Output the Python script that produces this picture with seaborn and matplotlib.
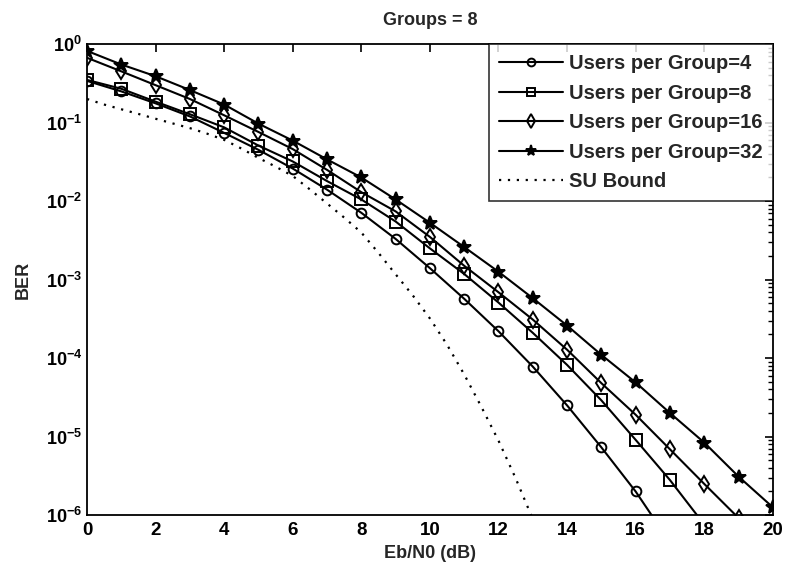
import matplotlib
matplotlib.use("Agg")
import matplotlib.pyplot as plt
import seaborn as sns
import pandas as pd
from matplotlib.ticker import LogLocator, FixedLocator, NullFormatter

# ---- data ----
ebn0 = list(range(0, 21))

ber_u4 = [0.34, 0.25, 0.176, 0.12, 0.074, 0.045, 0.026, 0.014, 0.0071, 0.0033,
          0.0014, 5.7e-4, 2.2e-4, 7.8e-5, 2.5e-5, 7.3e-6, 2.0e-6, 4.5e-7]
ber_u8 = [0.35, 0.27, 0.185, 0.128, 0.087, 0.051, 0.032, 0.018, 0.0105, 0.0055,
          0.0025, 1.18e-3, 5.1e-4, 2.1e-4, 8.2e-5, 2.9e-5, 9.1e-6, 2.8e-6, 7.6e-7]
ber_u16 = [0.67, 0.45, 0.30, 0.20, 0.124, 0.076, 0.046, 0.025, 0.013, 0.0074,
           0.0035, 1.5e-3, 6.9e-4, 3.1e-4, 1.28e-4, 4.8e-5, 1.9e-5, 6.9e-6, 2.5e-6, 9.2e-7]
ber_u32 = [0.82, 0.55, 0.39, 0.26, 0.17, 0.097, 0.059, 0.034, 0.020, 0.0105,
           0.0053, 2.6e-3, 1.26e-3, 5.8e-4, 2.6e-4, 1.1e-4, 4.9e-5, 2.0e-5, 8.4e-6, 3.1e-6, 1.26e-6]

su_ebn0 = [0, 0.5, 1, 1.5, 2, 2.5, 3, 3.5, 4, 4.5, 5, 5.5, 6, 6.5, 7, 7.5, 8, 8.5,
           9, 9.5, 10, 10.5, 11, 11.5, 12, 12.5, 13]
su_ber = [0.200, 0.170, 0.148, 0.129, 0.112, 0.0977, 0.0851, 0.0724, 0.0603, 0.0468,
          0.0355, 0.0275, 0.0209, 0.0141, 0.00933, 0.00617, 0.00398, 0.00219,
          0.00117, 6.3e-4, 3.2e-4, 1.48e-4, 6.2e-5, 2.4e-5, 8.9e-6, 2.95e-6, 8.9e-7]

labels = ["Users per Group=4", "Users per Group=8", "Users per Group=16",
          "Users per Group=32", "SU Bound"]
title = "Groups = 8"
xlabel = "Eb/N0 (dB)"
ylabel = "BER"
xticks = list(range(0, 21, 2))
yticks = [1e-6, 1e-5, 1e-4, 1e-3, 1e-2, 1e-1, 1e0]

# ---- style ----
sns.set_theme(style="white")
plt.rcParams["font.family"] = ["Liberation Sans", "DejaVu Sans"]
plt.rcParams["font.weight"] = "bold"
plt.rcParams["mathtext.fontset"] = "custom"
plt.rcParams["mathtext.rm"] = "Liberation Sans:bold"
plt.rcParams["mathtext.bf"] = "Liberation Sans:bold"
plt.rcParams["mathtext.default"] = "rm"

fig = plt.figure(figsize=(7.91, 5.73), dpi=100)
ax = fig.add_axes([0.110, 0.101, 0.867, 0.822])

series = [(ber_u4, "o", labels[0]), (ber_u8, "s", labels[1]),
          (ber_u16, "d", labels[2]), (ber_u32, "*", labels[3])]
msizes = {"o": 7.0, "s": 8.0, "d": 8.5, "*": 10}
for vals, mk, lab in series:
    df = pd.DataFrame({"x": ebn0[:len(vals)], "y": vals})
    sns.lineplot(data=df, x="x", y="y", ax=ax, color="black", linewidth=1.5,
                 marker=mk, markersize=msizes[mk],
                 markerfacecolor="none" if mk != "*" else "black",
                 markeredgecolor="black", markeredgewidth=1.4, label=lab)

df_su = pd.DataFrame({"x": su_ebn0, "y": su_ber})
sns.lineplot(data=df_su, x="x", y="y", ax=ax, color="black", linewidth=1.6,
             linestyle=(0, (1, 3)), label=labels[4])

ax.set_yscale("log")
ax.set_xlim(0, 20)
ax.set_ylim(1e-6, 1)
ax.xaxis.set_major_locator(FixedLocator(xticks))
ax.yaxis.set_major_locator(FixedLocator(yticks))
ax.yaxis.set_minor_locator(LogLocator(base=10, subs=range(2, 10), numticks=20))
ax.yaxis.set_minor_formatter(NullFormatter())

ax.tick_params(axis="both", which="both", direction="in", top=True, right=True,
               labelsize=13, colors="black")
ax.tick_params(axis="x", which="major", labelsize=13.5, pad=5)
ax.tick_params(axis="both", which="major", length=6, width=1.2)
ax.tick_params(axis="both", which="minor", length=3.5, width=1.0)
for lab in ax.get_xticklabels() + ax.get_yticklabels():
    lab.set_fontweight("bold")
for sp in ax.spines.values():
    sp.set_color("black")
    sp.set_linewidth(1.3)

ax.set_xlabel(xlabel, fontsize=13, fontweight="bold", labelpad=4)
ax.set_ylabel(ylabel, fontsize=13, fontweight="bold", labelpad=10)
ax.set_title(title, fontsize=13, fontweight="bold", pad=14)

leg = ax.legend(loc="upper right", frameon=True, fancybox=False, fontsize=14.5,
                handlelength=3.2, handletextpad=0.3, borderaxespad=0,
                labelspacing=0.52, borderpad=0.5, markerscale=0.8)
leg.get_frame().set_edgecolor("black")
leg.get_frame().set_linewidth(1.2)
for t in leg.get_texts():
    t.set_fontweight("bold")

fig.savefig("out.png", dpi=100)
